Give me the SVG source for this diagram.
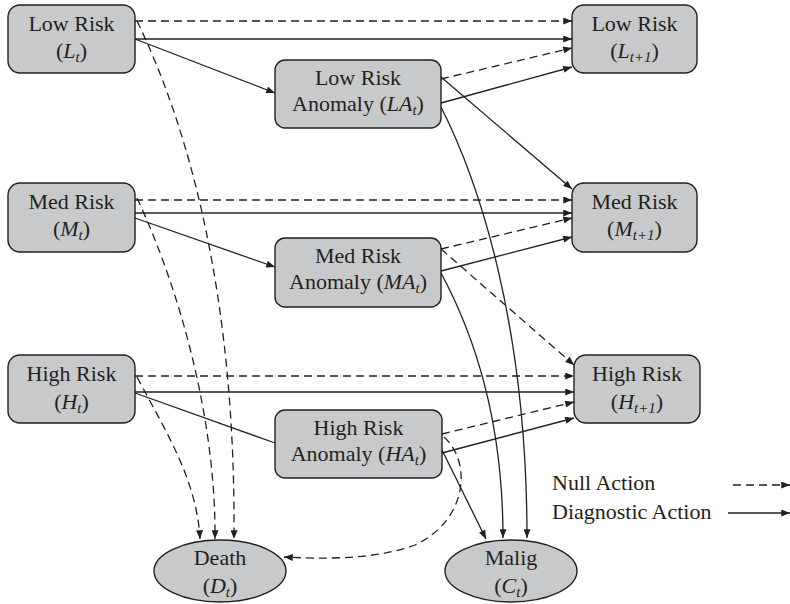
<svg xmlns="http://www.w3.org/2000/svg" width="790" height="604" viewBox="0 0 790 604">
  <defs>
    <marker id="head" viewBox="0 0 10 8" refX="10" refY="4" markerWidth="10" markerHeight="7" markerUnits="userSpaceOnUse" orient="auto">
      <path d="M0,0 L10,4 L0,8 Z" fill="#231f20"/>
    </marker>
  </defs>

  <!-- transitions: dashed = null action, solid = diagnostic action -->
  <g id="connectors" fill="none" stroke="#231f20" stroke-width="1.3">
    <g stroke-dasharray="8 5" marker-end="url(#head)">
      <line x1="135" y1="21" x2="572" y2="21"/>
      <path d="M137,21 C190,130 236,300 234,539"/>
      <line x1="135" y1="200" x2="572" y2="200"/>
      <path d="M137,198 C180,290 216,420 215,539"/>
      <line x1="135" y1="376" x2="574" y2="376"/>
      <path d="M137,377 C165,430 197,480 200,539"/>
      <line x1="441" y1="79" x2="572" y2="48"/>
      <line x1="441" y1="249" x2="572" y2="218"/>
      <line x1="441" y1="249" x2="574" y2="365"/>
      <line x1="442" y1="434" x2="574" y2="402"/>
      <path d="M444,437 C472,462 468,520 415,545 C375,560 320,559 284,557"/>
    </g>
    <g marker-end="url(#head)">
      <line x1="135" y1="39" x2="572" y2="39"/>
      <line x1="135" y1="39" x2="275" y2="93"/>
      <line x1="135" y1="213" x2="572" y2="213"/>
      <line x1="135" y1="218" x2="275" y2="267"/>
      <line x1="135" y1="392" x2="574" y2="392"/>
      <line x1="441" y1="103" x2="572" y2="67"/>
      <line x1="441" y1="77" x2="572" y2="189"/>
      <path d="M441,107 C477,178 527,320 527,538"/>
      <line x1="441" y1="271" x2="572" y2="237"/>
      <path d="M441,273 C462,312 503,400 503,538"/>
      <line x1="442" y1="453" x2="574" y2="418"/>
      <line x1="442" y1="450" x2="486" y2="539"/>
    </g>
    <line x1="135" y1="393" x2="275" y2="443"/>
  </g>

  <!-- current-period states -->
  <g id="L_t">
    <rect x="8" y="5" width="127" height="68" rx="12" fill="#c8c9cb" stroke="#231f20" stroke-width="1.4"/>
    <text x="71.5" y="31" font-family="Times New Roman" font-size="22" fill="#231f20" text-anchor="middle">Low Risk</text>
    <text x="71.5" y="58" font-family="Times New Roman" font-size="22" fill="#231f20" text-anchor="middle">(<tspan font-style="italic">L</tspan><tspan font-style="italic" font-size="15" dy="4">t</tspan><tspan dy="-4">)</tspan></text>
  </g>
  <g id="M_t">
    <rect x="8" y="183" width="127" height="69" rx="12" fill="#c8c9cb" stroke="#231f20" stroke-width="1.4"/>
    <text x="71.5" y="209" font-family="Times New Roman" font-size="22" fill="#231f20" text-anchor="middle">Med Risk</text>
    <text x="71.5" y="236" font-family="Times New Roman" font-size="22" fill="#231f20" text-anchor="middle">(<tspan font-style="italic">M</tspan><tspan font-style="italic" font-size="15" dy="4">t</tspan><tspan dy="-4">)</tspan></text>
  </g>
  <g id="H_t">
    <rect x="8" y="355" width="127" height="68" rx="12" fill="#c8c9cb" stroke="#231f20" stroke-width="1.4"/>
    <text x="71.5" y="381" font-family="Times New Roman" font-size="22" fill="#231f20" text-anchor="middle">High Risk</text>
    <text x="71.5" y="409" font-family="Times New Roman" font-size="22" fill="#231f20" text-anchor="middle">(<tspan font-style="italic">H</tspan><tspan font-style="italic" font-size="15" dy="4">t</tspan><tspan dy="-4">)</tspan></text>
  </g>

  <!-- anomaly states -->
  <g id="LA_t">
    <rect x="275" y="60" width="166" height="68" rx="10" fill="#c8c9cb" stroke="#231f20" stroke-width="1.4"/>
    <text x="358" y="85" font-family="Times New Roman" font-size="22" fill="#231f20" text-anchor="middle">Low Risk</text>
    <text x="358" y="111" font-family="Times New Roman" font-size="22" fill="#231f20" text-anchor="middle">Anomaly (<tspan font-style="italic">LA</tspan><tspan font-style="italic" font-size="15" dy="4">t</tspan><tspan dy="-4">)</tspan></text>
  </g>
  <g id="MA_t">
    <rect x="275" y="238" width="166" height="69" rx="10" fill="#c8c9cb" stroke="#231f20" stroke-width="1.4"/>
    <text x="358" y="263" font-family="Times New Roman" font-size="22" fill="#231f20" text-anchor="middle">Med Risk</text>
    <text x="358" y="289" font-family="Times New Roman" font-size="22" fill="#231f20" text-anchor="middle">Anomaly (<tspan font-style="italic">MA</tspan><tspan font-style="italic" font-size="15" dy="4">t</tspan><tspan dy="-4">)</tspan></text>
  </g>
  <g id="HA_t">
    <rect x="275" y="410" width="167" height="68" rx="10" fill="#c8c9cb" stroke="#231f20" stroke-width="1.4"/>
    <text x="358.5" y="435" font-family="Times New Roman" font-size="22" fill="#231f20" text-anchor="middle">High Risk</text>
    <text x="358.5" y="461" font-family="Times New Roman" font-size="22" fill="#231f20" text-anchor="middle">Anomaly (<tspan font-style="italic">HA</tspan><tspan font-style="italic" font-size="15" dy="4">t</tspan><tspan dy="-4">)</tspan></text>
  </g>

  <!-- next-period states -->
  <g id="L_t1">
    <rect x="572" y="5" width="125" height="68" rx="12" fill="#c8c9cb" stroke="#231f20" stroke-width="1.4"/>
    <text x="634.5" y="31" font-family="Times New Roman" font-size="22" fill="#231f20" text-anchor="middle">Low Risk</text>
    <text x="634.5" y="58" font-family="Times New Roman" font-size="22" fill="#231f20" text-anchor="middle">(<tspan font-style="italic">L</tspan><tspan font-style="italic" font-size="15" dy="4">t+1</tspan><tspan dy="-4">)</tspan></text>
  </g>
  <g id="M_t1">
    <rect x="572" y="183" width="125" height="69" rx="12" fill="#c8c9cb" stroke="#231f20" stroke-width="1.4"/>
    <text x="634.5" y="209" font-family="Times New Roman" font-size="22" fill="#231f20" text-anchor="middle">Med Risk</text>
    <text x="634.5" y="236" font-family="Times New Roman" font-size="22" fill="#231f20" text-anchor="middle">(<tspan font-style="italic">M</tspan><tspan font-style="italic" font-size="15" dy="4">t+1</tspan><tspan dy="-4">)</tspan></text>
  </g>
  <g id="H_t1">
    <rect x="574" y="355" width="126" height="68" rx="12" fill="#c8c9cb" stroke="#231f20" stroke-width="1.4"/>
    <text x="637" y="381" font-family="Times New Roman" font-size="22" fill="#231f20" text-anchor="middle">High Risk</text>
    <text x="637" y="409" font-family="Times New Roman" font-size="22" fill="#231f20" text-anchor="middle">(<tspan font-style="italic">H</tspan><tspan font-style="italic" font-size="15" dy="4">t+1</tspan><tspan dy="-4">)</tspan></text>
  </g>

  <!-- absorbing states -->
  <g id="D_t">
    <ellipse cx="220" cy="571" rx="66" ry="31" fill="#c8c9cb" stroke="#231f20" stroke-width="1.4"/>
    <text x="220" y="565" font-family="Times New Roman" font-size="22" fill="#231f20" text-anchor="middle">Death</text>
    <text x="220" y="593" font-family="Times New Roman" font-size="22" fill="#231f20" text-anchor="middle">(<tspan font-style="italic">D</tspan><tspan font-style="italic" font-size="15" dy="4">t</tspan><tspan dy="-4">)</tspan></text>
  </g>
  <g id="C_t">
    <ellipse cx="511" cy="571" rx="66" ry="31" fill="#c8c9cb" stroke="#231f20" stroke-width="1.4"/>
    <text x="511" y="565" font-family="Times New Roman" font-size="22" fill="#231f20" text-anchor="middle">Malig</text>
    <text x="511" y="593" font-family="Times New Roman" font-size="22" fill="#231f20" text-anchor="middle">(<tspan font-style="italic">C</tspan><tspan font-style="italic" font-size="15" dy="4">t</tspan><tspan dy="-4">)</tspan></text>
  </g>

  <!-- legend -->
  <g id="legend">
    <text x="552" y="490" font-family="Times New Roman" font-size="22" fill="#231f20">Null Action</text>
    <text x="552" y="519" font-family="Times New Roman" font-size="22" fill="#231f20">Diagnostic Action</text>
    <line x1="733" y1="485" x2="790" y2="485" stroke="#231f20" stroke-width="1.3" stroke-dasharray="8 5" marker-end="url(#head)"/>
    <line x1="728" y1="513" x2="790" y2="513" stroke="#231f20" stroke-width="1.3" marker-end="url(#head)"/>
  </g>
</svg>
